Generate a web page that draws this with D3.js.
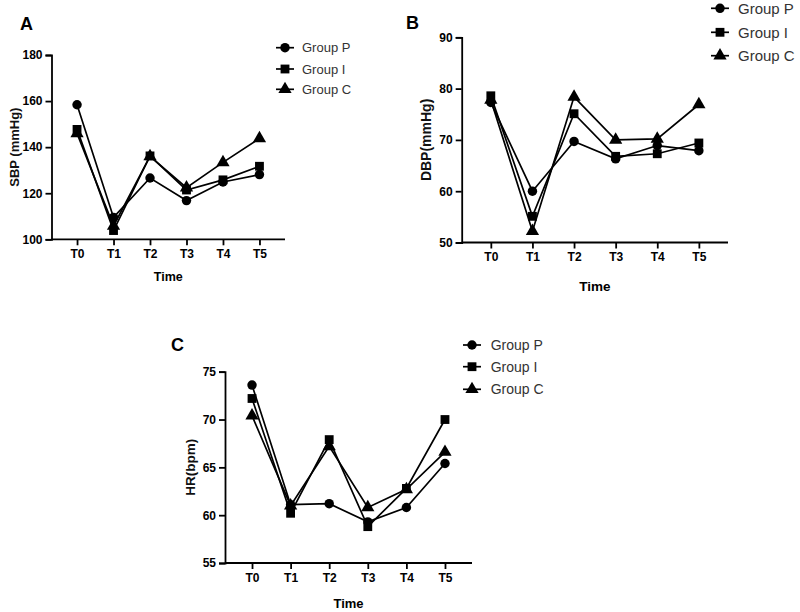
<!DOCTYPE html>
<html>
<head>
<meta charset="utf-8">
<script src="https://cdn.jsdelivr.net/npm/d3@7"></script>
<style>
  body { margin: 0; background: #fff; }
  svg { display: block; font-family: "Liberation Sans", Arial, sans-serif; }
</style>
</head>
<body>
<svg id="chart" width="800" height="612"></svg>
<script>
// time points and groups
const times = ['T0', 'T1', 'T2', 'T3', 'T4', 'T5'];
const groups = ['Group P', 'Group I', 'Group C'];

// systolic pressure (mmHg)
const sbpP = [158.4, 109.5, 126.6, 116.8, 124.9, 128.1];
const sbpI = [147.7, 103.8, 136.2, 121.4, 125.8, 131.7];
const sbpC = [146.0, 105.8, 136.0, 122.4, 133.4, 143.8];

// diastolic pressure (mmHg)
const dbpP = [77.3, 60.0, 69.7, 66.3, 68.9, 67.9];
const dbpI = [78.6, 55.1, 75.1, 66.8, 67.3, 69.4];
const dbpC = [77.8, 52.2, 78.4, 70.0, 70.2, 76.9];

// heart rate (bpm)
const hrP = [73.6, 61.1, 61.2, 59.3, 60.8, 65.4];
const hrI = [72.2, 60.2, 67.9, 58.8, 62.8, 70.0];
const hrC = [70.4, 61.0, 67.2, 60.8, 62.7, 66.6];

const sbpTicks = [100, 120, 140, 160, 180];
const dbpTicks = [50, 60, 70, 80, 90];
const hrTicks = [55, 60, 65, 70, 75];

const symbols = [d3.symbolCircle, d3.symbolSquare, d3.symbolTriangle];
const symSize = [70, 78, 76];

const panels = [
  { tag: 'A', tagX: 20, tagY: 30, x0: 51.5, x1: 285, yTop: 55, yBot: 239.3,
    ticks: sbpTicks, ylab: 'SBP (mmHg)', ylabX: 14, ylabFs: 13, timeY: 281, timeFs: 12.5,
    series: [sbpP, sbpI, sbpC],
    leg: { cx: 285, tx: 302, rows: [47.7, 69, 89.3], fs: 13 } },
  { tag: 'B', tagX: 406, tagY: 29, x0: 461.7, x1: 728, yTop: 37.3, yBot: 242.5,
    ticks: dbpTicks, ylab: 'DBP(mmHg)', ylabX: 426, ylabFs: 14, timeY: 291, timeFs: 13.5,
    series: [dbpP, dbpI, dbpC],
    leg: { cx: 720, tx: 738, rows: [8.3, 32.3, 55.7], fs: 15 } },
  { tag: 'C', tagX: 171, tagY: 351, x0: 225, x1: 472, yTop: 371.7, yBot: 563,
    ticks: hrTicks, ylab: 'HR(bpm)', ylabX: 190, ylabFs: 13.5, timeY: 608, timeFs: 13,
    series: [hrP, hrI, hrC],
    leg: { cx: 472, tx: 490.7, rows: [345, 366.7, 389.3], fs: 14 } }
];

const svg = d3.select('#chart');

panels.forEach(p => {
  const g = svg.append('g');

  const x = d3.scalePoint().domain(times).range([p.x0, p.x1]).padding(0.7);
  const y = d3.scaleLinear()
    .domain([p.ticks[0], p.ticks[p.ticks.length - 1]])
    .range([p.yBot, p.yTop]);

  // panel tag
  g.append('text')
    .attr('x', p.tagX).attr('y', p.tagY)
    .style('font-size', '18px').style('font-weight', 'bold')
    .text(p.tag);

  // axes
  const xAxis = g.append('g')
    .attr('transform', `translate(0,${p.yBot})`)
    .call(d3.axisBottom(x).tickSizeOuter(0).tickSize(6).tickPadding(4));
  const yAxis = g.append('g')
    .attr('transform', `translate(${p.x0},0)`)
    .call(d3.axisLeft(y).tickValues(p.ticks).tickSizeOuter(0).tickSize(6).tickPadding(3));
  [xAxis, yAxis].forEach(a => {
    a.selectAll('path.domain').attr('stroke', '#000').attr('stroke-width', 1.8);
    a.selectAll('.tick line').attr('stroke', '#000').attr('stroke-width', 1.8);
    a.selectAll('.tick text')
      .attr('fill', '#000')
      .style('font-size', '12px').style('font-weight', 'bold')
      .style('font-family', '"Liberation Sans", Arial, sans-serif');
  });
  // x domain should start at y axis
  xAxis.select('path.domain').attr('d', `M${p.x0},0H${p.x1}`);

  // axis titles
  g.append('text')
    .attr('x', (p.x0 + p.x1) / 2).attr('y', p.timeY)
    .attr('text-anchor', 'middle')
    .style('font-size', p.timeFs + 'px').style('font-weight', 'bold')
    .text('Time');
  g.append('text')
    .attr('transform', `translate(${p.ylabX},${(p.yTop + p.yBot) / 2}) rotate(-90)`)
    .attr('text-anchor', 'middle').attr('dy', '0.35em')
    .attr('fill', '#111')
    .style('font-size', p.ylabFs + 'px').style('font-weight', 'bold')
    .text(p.ylab);

  // lines + markers
  const line = d3.line().x((d, i) => x(times[i])).y(d => y(d));
  [2, 1, 0].forEach(k => {
    const vals = p.series[k];
    g.append('path')
      .datum(vals)
      .attr('d', line)
      .attr('fill', 'none')
      .attr('stroke', '#000')
      .attr('stroke-width', 1.7);
    g.selectAll(null)
      .data(vals)
      .enter().append('path')
      .attr('transform', (d, i) => `translate(${x(times[i])},${y(d)})`)
      .attr('d', d3.symbol().type(symbols[k]).size(symSize[k]))
      .attr('fill', '#000');
  });

  // legend
  const leg = g.append('g');
  groups.forEach((name, k) => {
    const ry = p.leg.rows[k];
    leg.append('line')
      .attr('x1', p.leg.cx - 9).attr('x2', p.leg.cx + 9)
      .attr('y1', ry).attr('y2', ry)
      .attr('stroke', '#000').attr('stroke-width', 1.7);
    leg.append('path')
      .attr('transform', `translate(${p.leg.cx},${ry})`)
      .attr('d', d3.symbol().type(symbols[k]).size(symSize[k]))
      .attr('fill', '#000');
    leg.append('text')
      .attr('x', p.leg.tx).attr('y', ry).attr('dy', '0.35em')
      .attr('fill', '#333')
      .style('font-size', p.leg.fs + 'px')
      .text(name);
  });
});
</script>
</body>
</html>
